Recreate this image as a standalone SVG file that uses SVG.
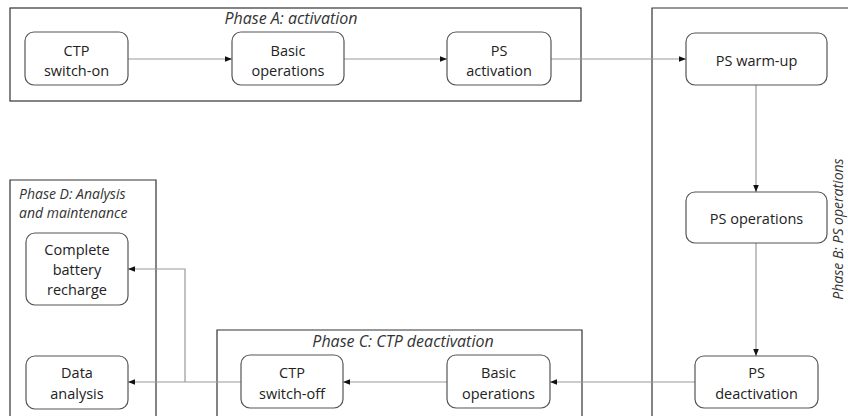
<svg xmlns="http://www.w3.org/2000/svg" width="848" height="416" viewBox="0 0 848 416">
<defs>
<marker id="ah" viewBox="0 0 10 10" refX="10" refY="5" markerWidth="7" markerHeight="7" markerUnits="userSpaceOnUse" orient="auto">
<path d="M0,1 L10,5 L0,9 Z" fill="#111"/>
</marker>
<style>
.phase{fill:none;stroke:#333;stroke-width:1.2}
.node rect{fill:#fff;stroke:#555;stroke-width:1.2}
.node text{font-family:"Open Sans","Noto Sans",sans-serif;font-size:14.5px;fill:#222;text-anchor:middle}
.plabel{font-family:"Open Sans","Noto Sans",sans-serif;font-size:16px;font-style:italic;fill:#333}
.small{font-size:14px}
.conn path{fill:none;stroke:#999;stroke-width:1.2;marker-end:url(#ah)}
</style>
</defs>
<rect width="848" height="416" fill="#fff"/>

<g id="phaseA">
<rect class="phase" x="10" y="8" width="571" height="93"/>
<text class="plabel" x="291" y="24" text-anchor="middle">Phase A: activation</text>
</g>
<g id="phaseB">
<path class="phase" d="M652,420 V8 H850"/>
<text class="plabel small" transform="translate(843,229) rotate(-90)" text-anchor="middle">Phase B: PS operations</text>
</g>
<g id="phaseC">
<path class="phase" d="M217,420 V330 H582 V420"/>
<text class="plabel" x="403" y="347" text-anchor="middle">Phase C: CTP deactivation</text>
</g>
<g id="phaseD">
<path class="phase" d="M10,420 V180 H156 V420"/>
<text class="plabel small" x="19" y="199">Phase D: Analysis</text>
<text class="plabel small" x="19" y="218">and maintenance</text>
</g>

<g class="conn" id="connectors">
<path d="M128,59 H232"/>
<path d="M344,59 H447"/>
<path d="M551,59 H686"/>
<path d="M756,85 V192"/>
<path d="M756,243 V356"/>
<path d="M695,382 H550"/>
<path d="M447,382 H343"/>
<path d="M241,382 H128"/>
<path d="M185,382 V269 H128"/>
</g>

<g class="node" id="ctp-switch-on">
<rect x="25" y="32" width="103" height="53" rx="9"/>
<text x="76.5" y="56">CTP</text>
<text x="76.5" y="76">switch-on</text>
</g>
<g class="node" id="basic-ops-a">
<rect x="232" y="32" width="112" height="53" rx="9"/>
<text x="288" y="56">Basic</text>
<text x="288" y="76">operations</text>
</g>
<g class="node" id="ps-activation">
<rect x="447" y="32" width="104" height="53" rx="9"/>
<text x="499" y="56">PS</text>
<text x="499" y="76">activation</text>
</g>
<g class="node" id="ps-warm-up">
<rect x="686" y="33" width="141" height="52" rx="9"/>
<text x="756.5" y="66">PS warm-up</text>
</g>
<g class="node" id="ps-operations">
<rect x="686" y="192" width="141" height="51" rx="9"/>
<text x="756.5" y="224">PS operations</text>
</g>
<g class="node" id="ps-deactivation">
<rect x="695" y="356" width="123" height="52" rx="9"/>
<text x="756.5" y="378">PS</text>
<text x="756.5" y="399">deactivation</text>
</g>
<g class="node" id="basic-ops-c">
<rect x="447" y="355" width="103" height="53" rx="9"/>
<text x="498.5" y="378">Basic</text>
<text x="498.5" y="399">operations</text>
</g>
<g class="node" id="ctp-switch-off">
<rect x="241" y="355" width="102" height="53" rx="9"/>
<text x="292" y="378">CTP</text>
<text x="292" y="399">switch-off</text>
</g>
<g class="node" id="battery-recharge">
<rect x="26" y="233" width="102" height="72" rx="9"/>
<text x="77" y="255">Complete</text>
<text x="77" y="275">battery</text>
<text x="77" y="295">recharge</text>
</g>
<g class="node" id="data-analysis">
<rect x="26" y="356" width="102" height="53" rx="9"/>
<text x="77" y="378">Data</text>
<text x="77" y="399">analysis</text>
</g>
</svg>
